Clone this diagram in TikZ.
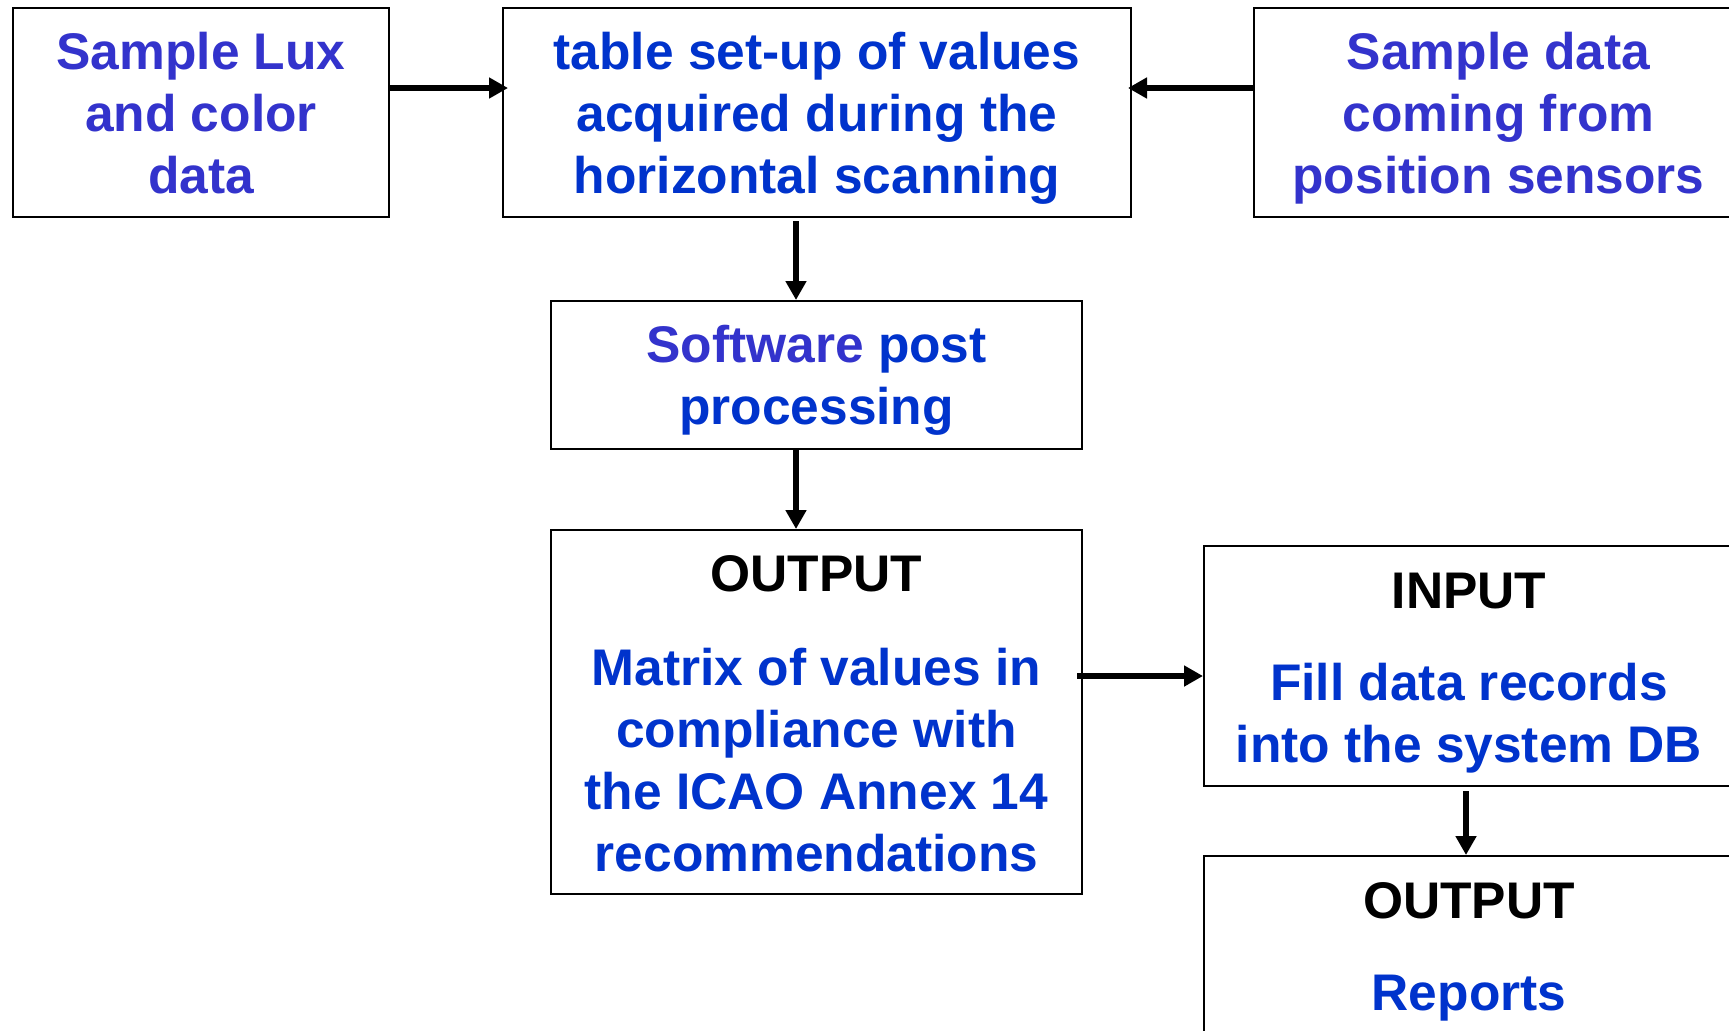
\documentclass[tikz,border=0pt]{standalone}
\usepackage{fontspec}
\setmainfont{Liberation Sans}
\usetikzlibrary{arrows.meta}
\definecolor{bluea}{HTML}{3333CC}
\definecolor{blueb}{HTML}{0033CC}
\begin{document}
\begin{tikzpicture}[x=0.5pt,y=-0.5pt,
  box/.style={draw=black,line width=1pt,rectangle,inner sep=0pt},
  txt/.style={inner sep=0pt,align=center,font=\fontsize{25.75}{31}\selectfont\bfseries},
  arr/.style={line width=3pt,-{Triangle[length=9.5pt,width=10pt]}}]
\useasboundingbox[fill=white] (0,0) rectangle (1729,1030);
\node[box,minimum width=188pt,minimum height=104.5pt] (b1) at (201,112.5) {};
\node[box,minimum width=314pt,minimum height=104.5pt] (b2) at (817,112.5) {};
\node[box,minimum width=244.5pt,minimum height=104.5pt] (b3) at (1498.5,112.5) {};
\node[box,minimum width=265.5pt,minimum height=74pt] (b4) at (816.5,375) {};
\node[box,minimum width=265.5pt,minimum height=182pt] (b5) at (816.5,712) {};
\node[box,minimum width=265pt,minimum height=120pt] (b6) at (1469,666) {};
\node[box,minimum width=265pt,minimum height=97pt] (b7) at (1469,953) {};
\node[txt,text=bluea] (t1) at ([yshift=-0.3pt]b1.center) {Sample Lux\\and color\\data};
\node[txt,text=blueb] (t2) at ([yshift=-2.75pt]b2.center) {table set-up of values\\acquired during the\\horizontal scanning};
\node[txt,text=bluea] (t3) at ([yshift=-2.75pt]b3.center) {Sample data\\coming from\\position sensors};
\node[txt,text=blueb] (t4) at ([yshift=-2.75pt]b4.center) {\textcolor{bluea}{Software} post\\processing};
\node[txt,text=blueb] (t5) at ([yshift=-1pt]b5.center) {\textcolor{black}{OUTPUT}\\[16pt]Matrix of values in\\compliance with\\the ICAO Annex 14\\recommendations};
\node[txt,text=blueb] (t6) at ([yshift=-3.5pt]b6.center) {\textcolor{black}{INPUT}\\[15pt]Fill data records\\into the system DB};
\node[txt,text=blueb] (t7) at ([yshift=0.5pt]b7.center) {\textcolor{black}{OUTPUT}\\[15pt]Reports};
\coordinate (ya) at (0,88);
\coordinate (xa) at (796,0);
\coordinate (yb) at (0,676);
\coordinate (xb) at (1466,0);
\draw[arr] (b1.east |- ya) -- ([xshift=3pt]b2.west |- ya);
\draw[arr] (b3.west |- ya) -- ([xshift=-2pt]b2.east |- ya);
\draw[arr] ([yshift=-1.5pt]b2.south -| xa) -- (b4.north -| xa);
\draw[arr] (b4.south -| xa) -- (b5.north -| xa);
\draw[arr] ([xshift=-3pt]b5.east |- yb) -- (b6.west |- yb);
\draw[arr] ([yshift=-2pt]b6.south -| xb) -- (b7.north -| xb);
\end{tikzpicture}
\end{document}
